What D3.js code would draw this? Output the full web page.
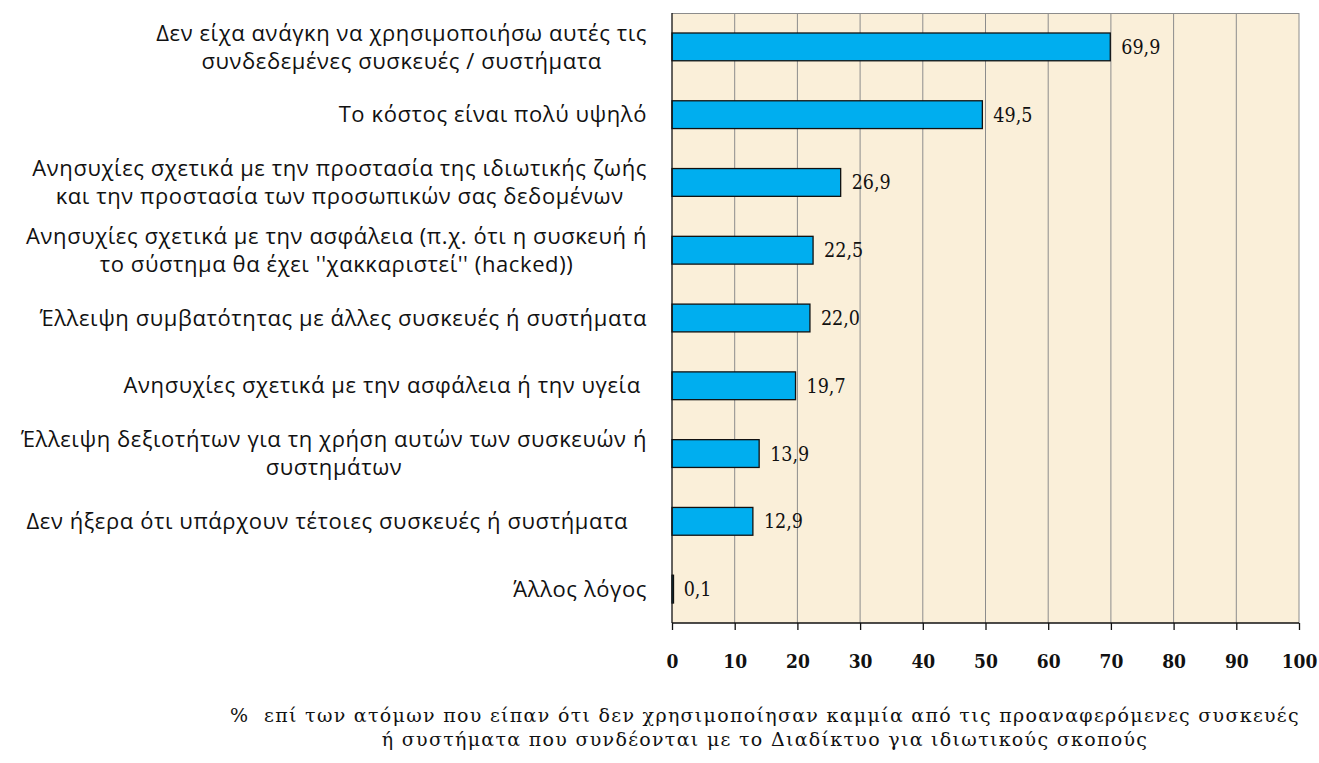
<!DOCTYPE html>
<html>
<head>
<meta charset="utf-8">
<script src="https://cdn.jsdelivr.net/npm/d3@7"></script>
<style>
    body { margin: 0; background: #fff; }
    svg { display: block; }
</style>
</head>
<body>
<script>
(function() {

    var categories = [
        ["Δεν είχα ανάγκη να χρησιμοποιήσω αυτές τις", "συνδεδεμένες συσκευές / συστήματα"],
        ["Το κόστος είναι πολύ υψηλό"],
        ["Ανησυχίες σχετικά με την προστασία της ιδιωτικής ζωής", "και την προστασία των προσωπικών σας δεδομένων"],
        ["Ανησυχίες σχετικά με την ασφάλεια (π.χ. ότι η συσκευή ή", "το σύστημα θα έχει ''χακκαριστεί'' (hacked))"],
        ["Έλλειψη συμβατότητας με άλλες συσκευές ή συστήματα"],
        ["Ανησυχίες σχετικά με την ασφάλεια ή την υγεία\u00a0"],
        ["Έλλειψη δεξιοτήτων για τη χρήση αυτών των συσκευών ή", "συστημάτων"],
        ["Δεν ήξερα ότι υπάρχουν τέτοιες συσκευές ή συστήματα\u00a0\u00a0\u00a0"],
        ["Άλλος λόγος"]
    ];
    var values = [69.9, 49.5, 26.9, 22.5, 22.0, 19.7, 13.9, 12.9, 0.1];
    var tickValues = [0, 10, 20, 30, 40, 50, 60, 70, 80, 90, 100];
    var footnote = [
        "%\u00a0 επί των ατόμων που είπαν ότι δεν χρησιμοποίησαν καμμία από τις προαναφερόμενες συσκευές",
        "ή συστήματα που συνδέονται με το Διαδίκτυο για ιδιωτικούς σκοπούς"
    ];

    var width = 1319,
        height = 763,
        plotLeft = 672,
        plotRight = 1299,
        plotTop = 13,
        plotBottom = 623;

    var svg = d3.select("body")
        .append("svg")
        .attr("width", width)
        .attr("height", height);

    var xScale = d3.scaleLinear()
        .domain([0, 100])
        .range([plotLeft, plotRight]);

    var yScale = d3.scaleBand()
        .domain(d3.range(categories.length))
        .range([plotTop, plotBottom])
        .paddingInner(0.59)
        .paddingOuter(0.295);

    // beige background
    svg.append("rect")
        .attr("x", plotLeft)
        .attr("y", plotTop)
        .attr("width", plotRight - plotLeft)
        .attr("height", plotBottom - plotTop)
        .style("fill", "#faefd9");

    // vertical gridlines
    svg.selectAll(".grid")
        .data(tickValues.slice(1))
        .enter()
        .append("line")
        .attr("class", "grid")
        .attr("x1", function(d){ return xScale(d); })
        .attr("x2", function(d){ return xScale(d); })
        .attr("y1", plotTop)
        .attr("y2", plotBottom)
        .style("stroke", "#8c8c8c")
        .style("stroke-width", 1);

    // top border
    svg.append("line")
        .attr("x1", plotLeft).attr("x2", plotRight)
        .attr("y1", plotTop + 0.5).attr("y2", plotTop + 0.5)
        .style("stroke", "#8c8c8c");

    // bars
    svg.selectAll(".bars")
        .data(values)
        .enter()
        .append("rect")
        .attr("class", "bars")
        .attr("x", xScale(0))
        .attr("y", function(d, i){ return yScale(i); })
        .attr("width", function(d){ return Math.max(xScale(d) - xScale(0), 1.5); })
        .attr("height", yScale.bandwidth())
        .style("fill", "#00aeef")
        .style("stroke", "#111")
        .style("stroke-width", 1.3);

    // value labels
    svg.selectAll(".valueLabel")
        .data(values)
        .enter()
        .append("text")
        .attr("class", "valueLabel")
        .attr("x", function(d){ return xScale(d) + 11; })
        .attr("y", function(d, i){ return yScale(i) + yScale.bandwidth() / 2; })
        .attr("dy", "0.36em")
        .style("font-family", "'DejaVu Serif Condensed', 'Liberation Serif', serif")
        .style("font-size", "19.5px")
        .style("fill", "#111")
        .text(function(d){ return d.toFixed(1).replace(".", ","); });

    // x axis
    var xAxis = d3.axisBottom(xScale)
        .tickValues(tickValues)
        .tickSize(7)
        .tickFormat(d3.format("d"));

    var axisG = svg.append("g")
        .attr("transform", "translate(0," + plotBottom + ")")
        .call(xAxis);

    axisG.select(".domain").style("stroke", "#111").style("stroke-width", 1.3)
        .attr("d", "M" + plotLeft + ",0H" + plotRight);
    axisG.selectAll(".tick line").style("stroke", "#111").style("stroke-width", 1.3);
    axisG.selectAll(".tick text")
        .attr("y", 32)
        .style("font-family", "'DejaVu Serif Condensed', 'Liberation Serif', serif")
        .style("font-weight", "bold")
        .style("font-size", "19px")
        .style("fill", "#111");

    // left axis line
    svg.append("line")
        .attr("x1", plotLeft).attr("x2", plotLeft)
        .attr("y1", plotTop).attr("y2", plotBottom)
        .style("stroke", "#111")
        .style("stroke-width", 1.3);

    // category labels
    var lineHeight = 28;
    var labels = svg.selectAll(".catLabel")
        .data(categories)
        .enter()
        .append("text")
        .attr("class", "catLabel")
        .attr("text-anchor", "middle")
        .style("font-family", "'Open Sans', 'Noto Sans', sans-serif")
        .style("font-size", "22px")
        .style("letter-spacing", "0.6px")
        .style("fill", "#111")
        .attr("transform", function(d, i){
            return "translate(0," + (yScale(i) + yScale.bandwidth() / 2) + ")";
        });

    labels.each(function(lines){
        var el = d3.select(this);
        var offset = -(lines.length - 1) * lineHeight / 2;
        lines.forEach(function(line, j){
            el.append("tspan")
                .attr("y", offset + j * lineHeight)
                .attr("dy", "0.35em")
                .text(line);
        });
        // lines centred inside a block whose right edge sits next to the plot
        var maxW = 0;
        el.selectAll("tspan").each(function(){
            maxW = Math.max(maxW, this.getComputedTextLength());
        });
        el.selectAll("tspan").attr("x", 647 - maxW / 2);
    });

    // footnote
    svg.selectAll(".footnote")
        .data(footnote)
        .enter()
        .append("text")
        .attr("class", "footnote")
        .attr("x", 765)
        .attr("y", function(d, i){ return 722 + i * 24; })
        .attr("text-anchor", "middle")
        .style("font-family", "'DejaVu Serif', 'Liberation Serif', serif")
        .style("font-size", "19px")
        .style("letter-spacing", "1.3px")
        .style("fill", "#111")
        .text(function(d){ return d; });

})();
</script>
</body>
</html>
